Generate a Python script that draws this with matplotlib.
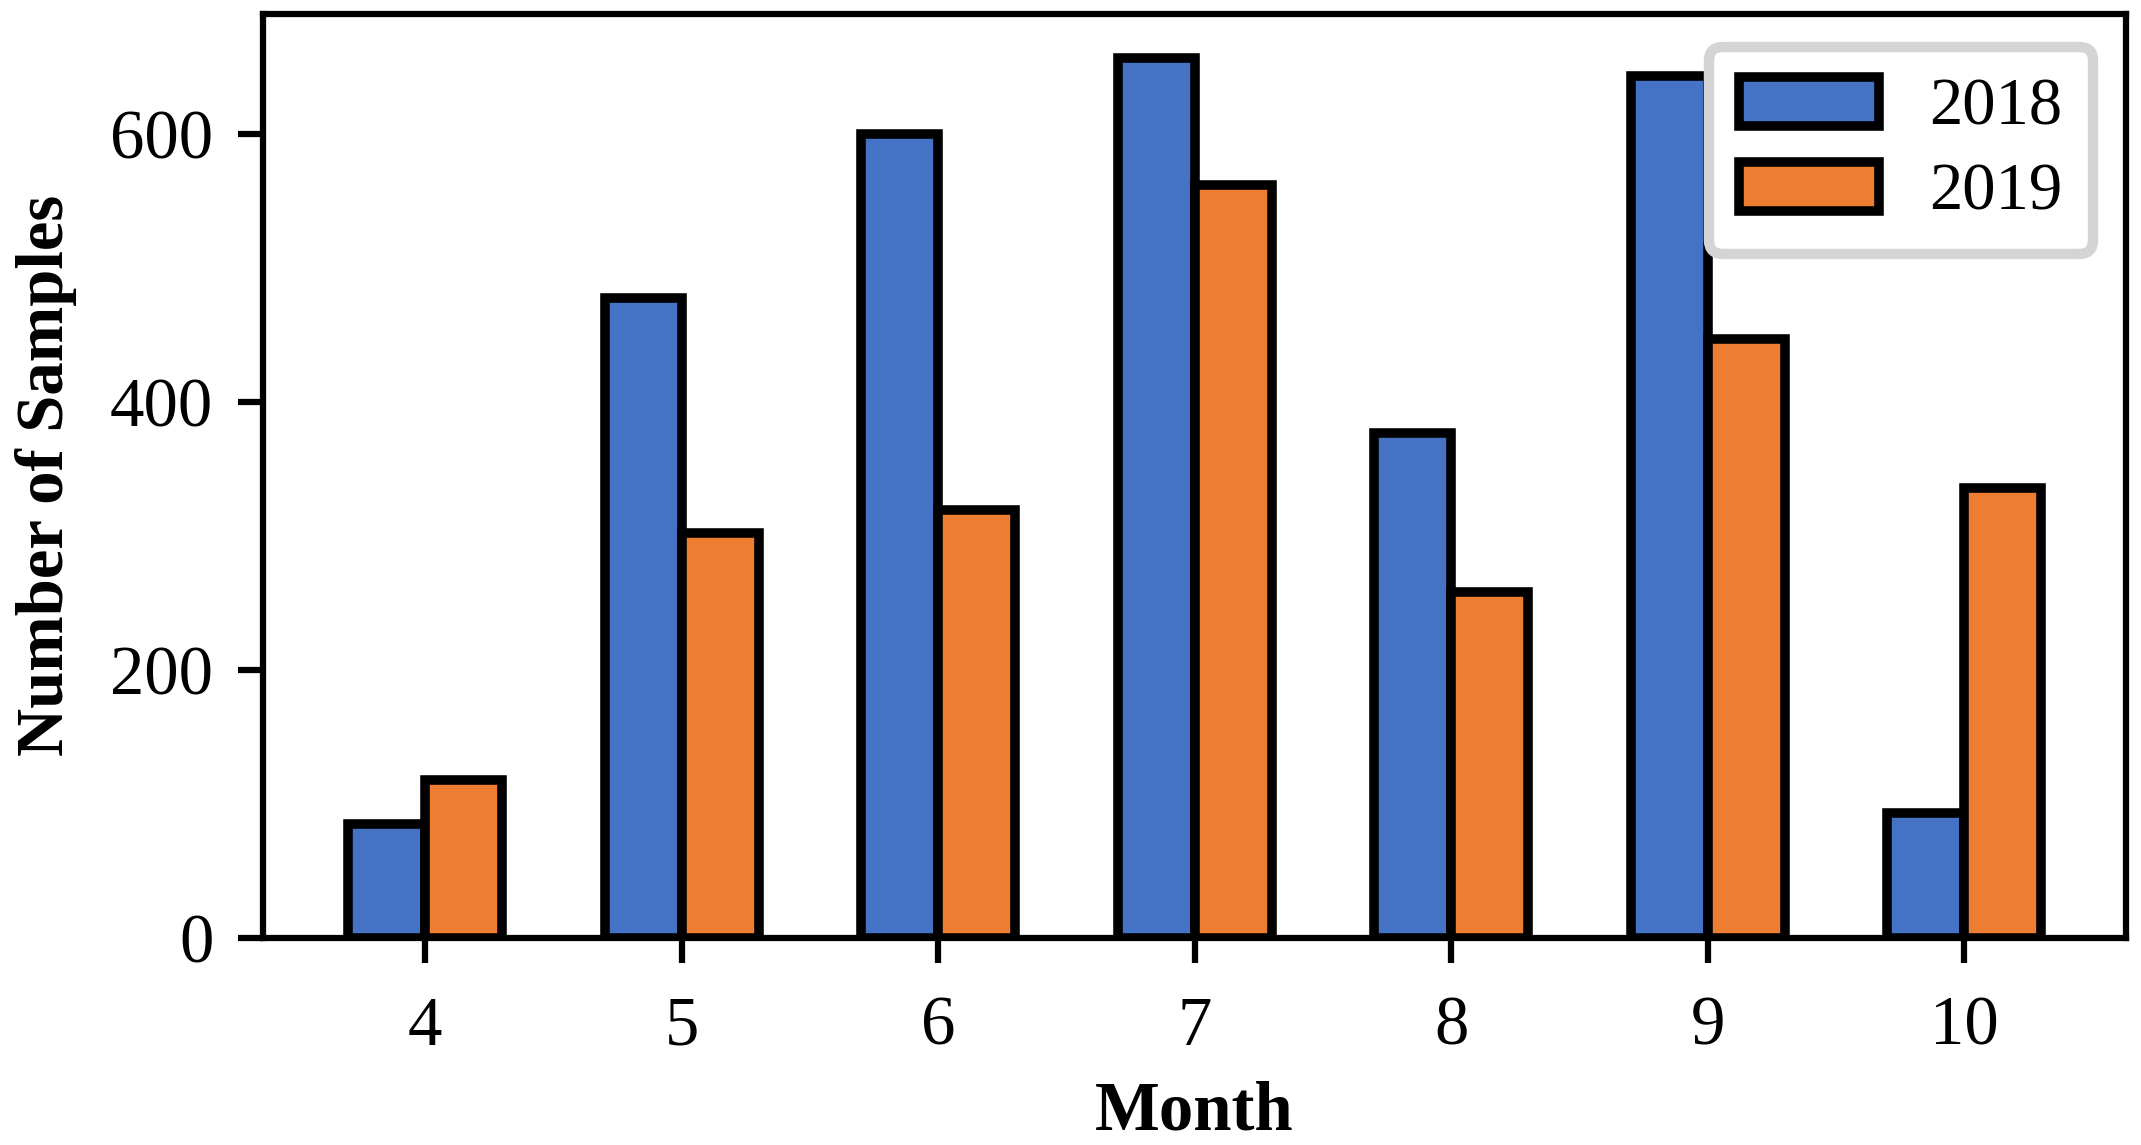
import matplotlib
matplotlib.use('Agg')
import matplotlib.pyplot as plt
import numpy as np

plt.rcParams['font.family'] = ['Liberation Serif', 'DejaVu Serif']

months = [4, 5, 6, 7, 8, 9, 10]
samples_2018 = [85, 478, 600, 657, 377, 643, 93]
samples_2019 = [118, 302, 319, 562, 258, 447, 336]

blue = '#4472C4'
orange = '#ED7D31'
width = 0.3

fig = plt.figure(figsize=(2141 / 300, 1145 / 300), dpi=300)
ax = fig.add_axes([0.123, 0.181, 0.870, 0.807])

x = np.array(months)
ax.bar(x - width / 2, samples_2018, width, color=blue, edgecolor='black',
       linewidth=2.3, label='2018')
ax.bar(x + width / 2, samples_2019, width, color=orange, edgecolor='black',
       linewidth=2.3, label='2019')

ax.set_xticks(months)
ax.set_yticks([0, 200, 400, 600])
ax.tick_params(axis='both', labelsize=16.5, length=6, width=1.5, direction='out')
ax.tick_params(axis='x', pad=8)
ax.tick_params(axis='y', pad=6)
ax.set_xlabel('Month', fontsize=16.5, fontweight='bold', labelpad=5)
ax.set_ylabel('Number of Samples', fontsize=16, fontweight='bold', labelpad=8)
for s in ax.spines.values():
    s.set_linewidth(1.5)

leg = ax.legend(loc='upper right', fontsize=16, handlelength=2.1, handleheight=0.75,
                fancybox=True, framealpha=1, borderpad=0.45, labelspacing=0.35,
                handletextpad=0.75)
leg.get_frame().set_edgecolor('#d4d4d4')
leg.get_frame().set_linewidth(2.5)

fig.savefig('out.png', dpi=300)
